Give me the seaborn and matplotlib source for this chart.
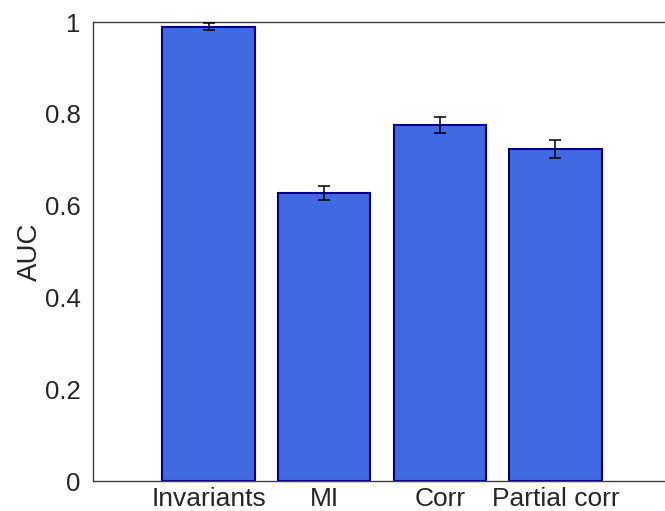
import numpy as np
import pandas as pd
import matplotlib
matplotlib.use("Agg")
import matplotlib.pyplot as plt
import seaborn as sns

# 数据
methods = ["Invariants", "MI", "Corr", "Partial corr"]
auc = [0.990, 0.627, 0.775, 0.724]
auc_err = [0.0076, 0.0155, 0.0175, 0.0196]
y_ticks = [0, 0.2, 0.4, 0.6, 0.8, 1]
y_tick_labels = ["0", "0.2", "0.4", "0.6", "0.8", "1"]

sns.set_style("white")
plt.rcParams['font.family'] = ['Liberation Sans', 'DejaVu Sans']

df = pd.DataFrame({"method": methods, "auc": auc})

fig = plt.figure(figsize=(6.65, 5.11), dpi=100)
# 右侧边框超出画布（与原图一致）
ax = fig.add_axes([93 / 665, 30 / 511, 578 / 665, 459 / 511])

sns.barplot(data=df, x="method", y="auc", ax=ax, color="#4169E1",
            saturation=1, width=0.8, errorbar=None,
            edgecolor="#00008B", linewidth=1.5, zorder=2)
ax.errorbar(np.arange(len(methods)), auc, yerr=auc_err, fmt="none",
            ecolor="black", elinewidth=1.1, capsize=4, capthick=1.1, zorder=3)

ax.set_xlim(-1, 4)
ax.set_ylim(0, 1)
ax.set_yticks(y_ticks)
ax.set_yticklabels(y_tick_labels)
ax.set_xlabel("")
ax.set_ylabel("AUC", fontsize=20, color="#262626", labelpad=1)

ax.tick_params(axis="y", direction="in", length=5, width=0.8, colors="#404040",
               labelsize=18.5, labelcolor="#262626", pad=9)
ax.tick_params(axis="x", length=0, labelsize=19, labelcolor="#262626", pad=4)

for side in ["left", "bottom", "top"]:
    ax.spines[side].set_visible(True)
    ax.spines[side].set_color("#404040")
    ax.spines[side].set_linewidth(1.0)
ax.spines["right"].set_visible(False)

fig.savefig("out.png", dpi=100)
